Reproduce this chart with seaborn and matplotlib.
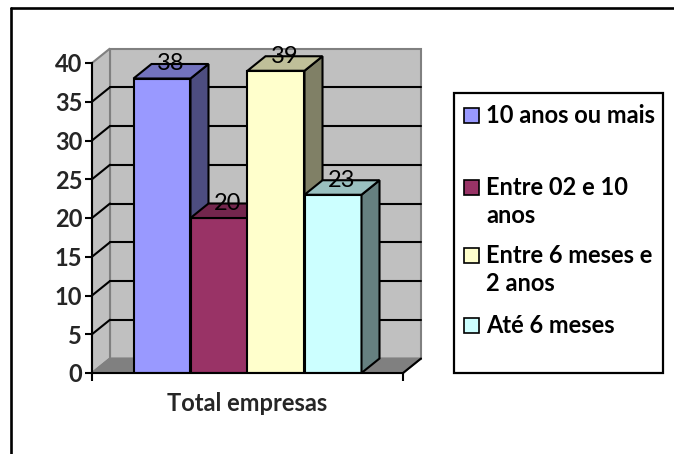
import textwrap
import numpy as np
import pandas as pd
import matplotlib
matplotlib.use("Agg")
import matplotlib.pyplot as plt
import matplotlib.colors as mcolors
from matplotlib.patches import Polygon, Rectangle
from matplotlib.lines import Line2D
import seaborn as sns

# ---- data ----
group = ["Total empresas"]
categories = ["10 anos ou mais", "Entre 02 e 10 anos", "Entre 6 meses e 2 anos", "Até 6 meses"]
values = [38, 20, 39, 23]
yticks = [0, 5, 10, 15, 20, 25, 30, 35, 40]
colors = ["#9999FF", "#993366", "#FFFFCC", "#CCFFFF"]

sns.set_style("white")
plt.rcParams["font.family"] = ["Lato", "DejaVu Sans"]

W, H = 674, 454
fig = plt.figure(figsize=(W / 100, H / 100), dpi=100)


def fx(x):
    return x / W


def fy(y):
    return 1 - y / H


AX_L, AX_R, AX_T, AX_B = 92, 403, 63, 373
ax = fig.add_axes([fx(AX_L), fy(AX_B), (AX_R - AX_L) / W, (AX_B - AX_T) / H])
ax.patch.set_visible(False)

df = pd.DataFrame({"grupo": group * len(categories), "categoria": categories, "valor": values})
sns.barplot(data=df, x="grupo", y="valor", hue="categoria", hue_order=categories,
            palette=colors, saturation=1, width=228 / 311, edgecolor="black",
            linewidth=1.5, legend=False, errorbar=None, ax=ax)
bars = list(ax.patches)

x0, x1 = -0.5, 0.5
ymax = yticks[-1]
ax.set_xlim(x0, x1)
ax.set_ylim(0, ymax)
ddx = 18 / (AX_R - AX_L) * (x1 - x0)
ddy = 14.5 / (AX_B - AX_T) * ymax

wall = "#C0C0C0"
wall_edge = "#808080"
# back wall
ax.add_patch(Polygon([(x0 + ddx, ddy), (x1 + ddx, ddy), (x1 + ddx, ymax + ddy), (x0 + ddx, ymax + ddy)],
                     closed=True, fc=wall, ec=wall_edge, lw=1.5, clip_on=False, zorder=0.1))
# left wall
ax.add_patch(Polygon([(x0, 0), (x0 + ddx, ddy), (x0 + ddx, ymax + ddy), (x0, ymax)],
                     closed=True, fc=wall, ec=wall_edge, lw=1.5, clip_on=False, zorder=0.1))
# floor
ax.add_patch(Polygon([(x0, 0), (x1, 0), (x1 + ddx, ddy), (x0 + ddx, ddy)],
                     closed=True, fc="#808080", ec="#808080", lw=1.5, clip_on=False, zorder=0.15))
ax.add_line(Line2D([x1, x1 + ddx], [0, ddy], color="black", lw=1.5, clip_on=False, zorder=0.3))
# gridlines
for v in yticks[1:-1]:
    ax.add_line(Line2D([x0 + ddx, x1 + ddx], [v + ddy, v + ddy], color="black", lw=1.5,
                       clip_on=False, zorder=0.2))
    ax.add_line(Line2D([x0, x0 + ddx], [v, v + ddy], color="black", lw=1.5,
                       clip_on=False, zorder=0.2))

# 3D faces of bars
for i, (p, v, c) in enumerate(zip(bars, values, colors)):
    z = 3 + i
    p.set_zorder(z)
    bx, bw, bh = p.get_x(), p.get_width(), p.get_height()
    rgb = np.array(mcolors.to_rgb(c))
    top = Polygon([(bx, bh), (bx + bw, bh), (bx + bw + ddx, bh + ddy), (bx + ddx, bh + ddy)],
                  closed=True, fc=rgb * 0.75, ec="black", lw=1.5, clip_on=False, zorder=z)
    side = Polygon([(bx + bw, 0), (bx + bw, bh), (bx + bw + ddx, bh + ddy), (bx + bw + ddx, ddy)],
                   closed=True, fc=rgb * 0.5, ec="black", lw=1.5, clip_on=False, zorder=z)
    ax.add_patch(side)
    ax.add_patch(top)
    ax.text(bx + bw / 2 + ddx / 2, bh + ddy, str(v), ha="center", va="center",
            fontsize=17, color="black", zorder=20, clip_on=False)

# axes styling
for s in ["top", "right"]:
    ax.spines[s].set_visible(False)
for s in ["left", "bottom"]:
    ax.spines[s].set_color("black")
    ax.spines[s].set_linewidth(1.5)
    ax.spines[s].set_zorder(15)
ax.set_yticks(yticks)
ax.tick_params(axis="y", length=5, width=1.5, color="black", labelsize=17, pad=2, left=True)
for lbl in ax.get_yticklabels():
    lbl.set_fontweight("bold")
ax.set_xticks([0], group)
ax.set_xticks([x0, x1], minor=True)
ax.tick_params(axis="x", which="major", length=0, labelsize=17, pad=14)
ax.tick_params(axis="x", which="minor", length=6, width=1.5, color="black", bottom=True)
for lbl in ax.get_xticklabels():
    lbl.set_fontweight("bold")
ax.set_xlabel("")
ax.set_ylabel("")

# legend (drawn manually to match the boxed layout)
fig.add_artist(Rectangle((fx(454), fy(373)), (663 - 454) / W, (373 - 93) / H,
                         transform=fig.transFigure, fc="white", ec="black", lw=1.6))
baselines = [123, 195, 263, 333]
line_gap = 28
for cat, c, base in zip(categories, colors, baselines):
    fig.add_artist(Rectangle((fx(464), fy(base)), 15 / W, 15 / H, transform=fig.transFigure,
                             fc=c, ec="black", lw=1.2))
    for k, line in enumerate(textwrap.wrap(cat, 15)):
        fig.text(fx(486), fy(base + k * line_gap), line, ha="left", va="baseline",
                 fontsize=17, fontweight="bold", color="black")

# outer border
fig.add_artist(Line2D([fx(11), fx(W + 5)], [fy(7.5), fy(7.5)], color="black", lw=1.9,
                      transform=fig.transFigure))
fig.add_artist(Line2D([fx(11), fx(11)], [fy(7.5), fy(H + 5)], color="black", lw=1.9,
                      transform=fig.transFigure))

fig.savefig("out.png", dpi=100)
